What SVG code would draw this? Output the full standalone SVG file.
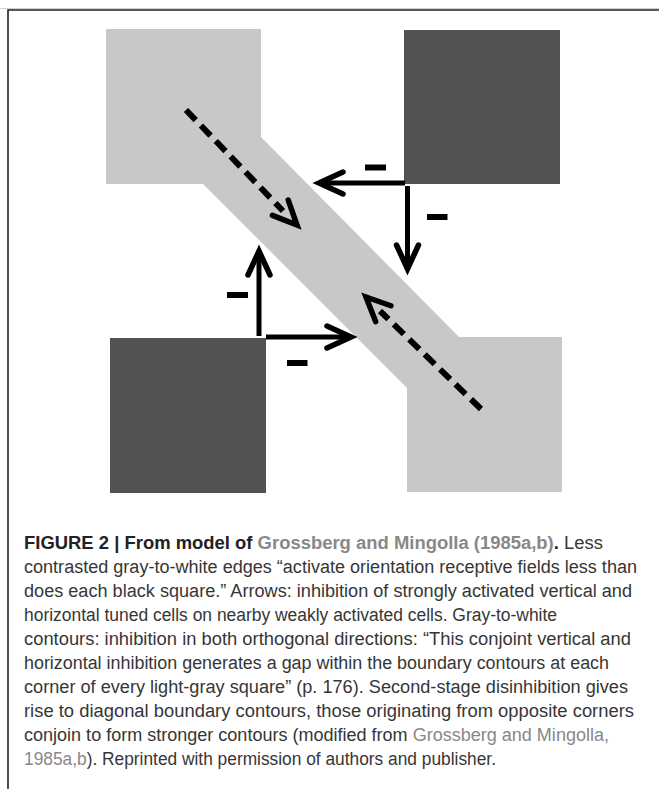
<svg xmlns="http://www.w3.org/2000/svg" xmlns:xlink="http://www.w3.org/1999/xlink" width="659" height="789" viewBox="0 0 659 789">
<style>
.light{fill:#c8c8c8}
.dark{fill:#525252}
.shaft{stroke:#000;stroke-width:5;fill:none;stroke-linecap:butt}
.dash{stroke:#000;stroke-width:6;fill:none;stroke-dasharray:14 7.5}
.chev{stroke:#000;stroke-width:5.5;fill:none;stroke-linecap:round;stroke-linejoin:miter}
.minus{fill:#000}
.cap{font-family:"Liberation Sans",Arial,sans-serif;font-size:18px;fill:#363636}
.b{font-weight:bold;fill:#222}
.lk{fill:#888}
.frame{stroke:#222;stroke-width:1.6;fill:none}
</style>
<defs>
<path id="chev" class="chev" d="M-24,-11 L0,0 L-24,11"/>
</defs>
<rect width="659" height="789" fill="#fff"/>
<g id="frame">
<line x1="0" y1="8.5" x2="659" y2="8.5" stroke="#d0d0d0" stroke-width="1"/>
<path class="frame" d="M8,789 V10 H659"/>
</g>
<g id="light-squares">
<path class="light" d="M106,29 H261 V137 L459,337 H562 V492 H407 V388 L203,184 H106 Z"/>
</g>
<g id="dark-top-right"><rect class="dark" x="404" y="30" width="156" height="154"/></g>
<g id="dark-bottom-left"><rect class="dark" x="110" y="338" width="156" height="155"/></g>
<g id="connectors">
<line class="dash" x1="186" y1="110" x2="283" y2="211"/>
<use xlink:href="#chev" transform="translate(297,225) rotate(46)"/>
<line class="dash" x1="481" y1="409" x2="380" y2="311"/>
<use xlink:href="#chev" transform="translate(366,297) rotate(224)"/>
<line class="shaft" x1="405" y1="183" x2="321" y2="183"/>
<use xlink:href="#chev" transform="translate(319,183) rotate(180)"/>
<line class="shaft" x1="407.5" y1="186" x2="407.5" y2="267"/>
<use xlink:href="#chev" transform="translate(407.5,269) rotate(90)"/>
<line class="shaft" x1="259" y1="336" x2="259" y2="253"/>
<use xlink:href="#chev" transform="translate(259,251) rotate(-90)"/>
<line class="shaft" x1="266" y1="337" x2="349" y2="337"/>
<use xlink:href="#chev" transform="translate(351,337)"/>
</g>
<g id="minus-labels">
<rect class="minus" x="365" y="164.5" width="21" height="6"/>
<rect class="minus" x="427" y="214" width="20.5" height="6"/>
<rect class="minus" x="227" y="292" width="21" height="6"/>
<rect class="minus" x="287" y="360" width="20.5" height="6"/>
</g>
<g id="caption" class="cap">
<text x="24" y="549" textLength="579" lengthAdjust="spacingAndGlyphs"><tspan class="b">FIGURE 2 | From model of </tspan><tspan class="b lk">Grossberg and Mingolla (1985a,b)</tspan><tspan class="b">.</tspan> Less</text>
<text x="24" y="573" textLength="613" lengthAdjust="spacingAndGlyphs">contrasted gray-to-white edges “activate orientation receptive fields less than</text>
<text x="24" y="597" textLength="608" lengthAdjust="spacingAndGlyphs">does each black square.” Arrows: inhibition of strongly activated vertical and</text>
<text x="24" y="621" textLength="533" lengthAdjust="spacingAndGlyphs">horizontal tuned cells on nearby weakly activated cells. Gray-to-white</text>
<text x="24" y="645" textLength="607" lengthAdjust="spacingAndGlyphs">contours: inhibition in both orthogonal directions: “This conjoint vertical and</text>
<text x="24" y="669" textLength="585" lengthAdjust="spacingAndGlyphs">horizontal inhibition generates a gap within the boundary contours at each</text>
<text x="24" y="693" textLength="604" lengthAdjust="spacingAndGlyphs">corner of every light-gray square” (p. 176). Second-stage disinhibition gives</text>
<text x="24" y="717" textLength="610" lengthAdjust="spacingAndGlyphs">rise to diagonal boundary contours, those originating from opposite corners</text>
<text x="24" y="741" textLength="585" lengthAdjust="spacingAndGlyphs">conjoin to form stronger contours (modified from <tspan class="lk">Grossberg and Mingolla,</tspan></text>
<text x="24" y="765" textLength="472" lengthAdjust="spacingAndGlyphs"><tspan class="lk">1985a,b</tspan>). Reprinted with permission of authors and publisher.</text>
</g>
</svg>
